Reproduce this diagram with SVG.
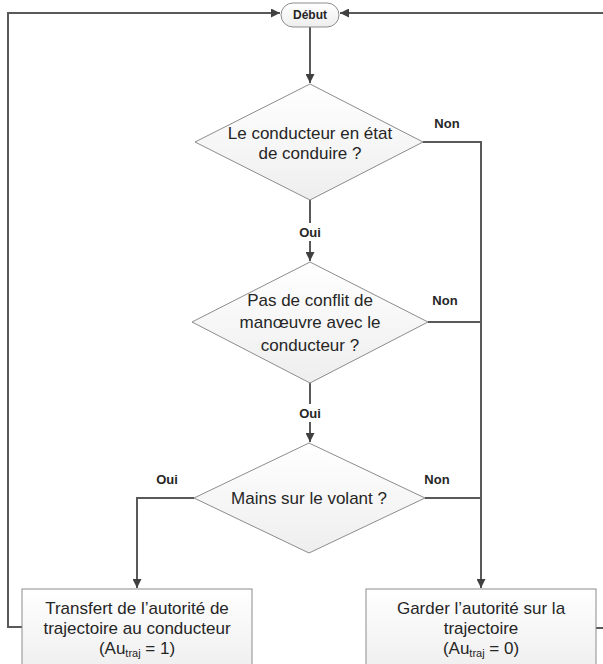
<svg xmlns="http://www.w3.org/2000/svg" width="603" height="664" viewBox="0 0 603 664">
<style>
.conn{fill:none;stroke:#595959;stroke-width:2}
.shape{stroke:#8c8c8c;stroke-width:1}
.t{font-family:"Liberation Sans",Arial,sans-serif;font-size:17px;fill:#262626;text-anchor:middle}
.lbl{font-family:"Liberation Sans",Arial,sans-serif;font-size:13px;font-weight:bold;fill:#262626;text-anchor:middle}
.sub{font-size:11px}
</style>
<defs>
<linearGradient id="g" x1="0" y1="0" x2="0" y2="1">
<stop offset="0" stop-color="#ffffff"/>
<stop offset="1" stop-color="#eeeeee"/>
</linearGradient>
<marker id="arr" viewBox="0 0 10 10" refX="10" refY="5" markerWidth="5" markerHeight="4.5" orient="auto" markerUnits="strokeWidth">
<path d="M0,0 L10,5 L0,10 z" fill="#404040"/>
</marker>
</defs>
<rect width="603" height="664" fill="#ffffff"/>

<g id="connectors">
<path class="conn" d="M310,27 V83" marker-end="url(#arr)"/>
<path class="conn" d="M310,200 V223"/>
<path class="conn" d="M310,241 V261" marker-end="url(#arr)"/>
<path class="conn" d="M310,383 V404"/>
<path class="conn" d="M310,422 V442" marker-end="url(#arr)"/>
<path class="conn" d="M423,142 H481 V588" marker-end="url(#arr)"/>
<path class="conn" d="M428,322 H481"/>
<path class="conn" d="M425,498 H481"/>
<path class="conn" d="M194,498 H137 V588" marker-end="url(#arr)"/>
<path class="conn" d="M22,627 H8 V13 H280" marker-end="url(#arr)"/>
<path class="conn" d="M610,13 H340" marker-end="url(#arr)"/>
<path class="conn" d="M596,628 H610"/>
<text class="lbl" x="447" y="128">Non</text>
<text class="lbl" x="310" y="237">Oui</text>
<text class="lbl" x="445" y="305">Non</text>
<text class="lbl" x="310" y="418">Oui</text>
<text class="lbl" x="167" y="484">Oui</text>
<text class="lbl" x="437" y="484">Non</text>
</g>

<g id="debut">
<rect class="shape" x="281" y="3" width="58" height="24" rx="12" fill="url(#g)"/>
<text class="lbl" x="310" y="19" style="font-size:12px">Début</text>
</g>

<g id="decision1">
<polygon class="shape" points="310,84 423,142 310,200 195,142" fill="url(#g)"/>
<text class="t" x="310" y="139">Le conducteur en état</text>
<text class="t" x="310" y="159">de conduire ?</text>
</g>

<g id="decision2">
<polygon class="shape" points="310,262 428,322 310,383 192,322" fill="url(#g)"/>
<text class="t" x="310" y="306">Pas de conflit de</text>
<text class="t" x="310" y="328">manœuvre avec le</text>
<text class="t" x="310" y="351">conducteur ?</text>
</g>

<g id="decision3">
<polygon class="shape" points="309,443 425,498 309,553 194,498" fill="url(#g)"/>
<text class="t" x="309" y="504">Mains sur le volant ?</text>
</g>

<g id="transfert">
<rect class="shape" x="22" y="589" width="230" height="84" fill="url(#g)"/>
<text class="t" x="137" y="614">Transfert de l’autorité de</text>
<text class="t" x="137" y="634">trajectoire au conducteur</text>
<text class="t" x="137" y="654">(Au<tspan class="sub" dy="3">traj</tspan><tspan dy="-3"> = 1)</tspan></text>
</g>

<g id="garder">
<rect class="shape" x="366" y="589" width="230" height="84" fill="url(#g)"/>
<text class="t" x="481" y="614">Garder l’autorité sur la</text>
<text class="t" x="481" y="634">trajectoire</text>
<text class="t" x="481" y="654">(Au<tspan class="sub" dy="3">traj</tspan><tspan dy="-3"> = 0)</tspan></text>
</g>
</svg>
